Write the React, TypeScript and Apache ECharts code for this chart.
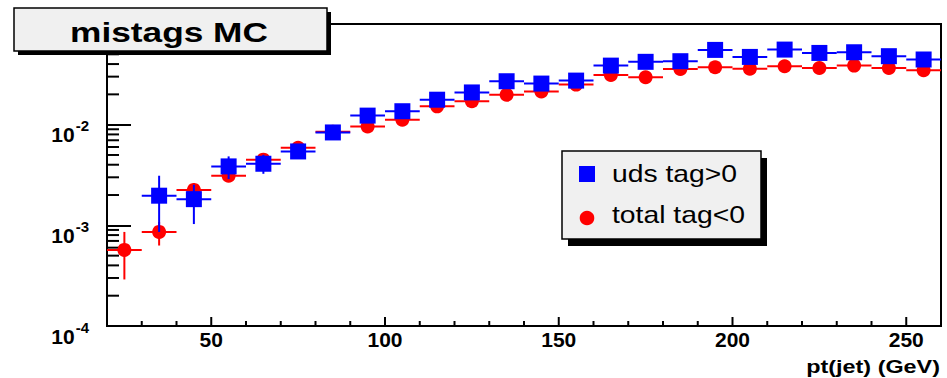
import React, { useEffect, useRef } from "react";
import * as echarts from "echarts";

// pt(jet) bin centres (GeV), bins of 10 GeV from 20 to 260
const binCenters = [25, 35, 45, 55, 65, 75, 85, 95, 105, 115, 125, 135, 145, 155, 165, 175, 185, 195, 205, 215, 225, 235, 245, 255];

// total tag<0 (red circles)
const totalVal = [5.7e-4, 8.6e-4, 2.25e-3, 3.11e-3, 4.49e-3, 5.9e-3, 8.5e-3, 9.6e-3, 1.12e-2, 1.52e-2, 1.71e-2, 1.98e-2, 2.14e-2, 2.5e-2, 3.12e-2, 2.96e-2, 3.58e-2, 3.72e-2, 3.6e-2, 3.8e-2, 3.66e-2, 3.86e-2, 3.66e-2, 3.47e-2];
const totalLo = [2.9e-4, 6.3e-4, 1.87e-3, 2.8e-3, 4.1e-3, 5.5e-3, 8.0e-3, 9.1e-3, 1.06e-2, 1.45e-2, 1.63e-2, 1.89e-2, 2.04e-2, 2.4e-2, 3.0e-2, 2.84e-2, 3.45e-2, 3.58e-2, 3.46e-2, 3.66e-2, 3.52e-2, 3.72e-2, 3.51e-2, 3.32e-2];
const totalHi = [8.6e-4, 1.08e-3, 2.63e-3, 3.42e-3, 4.88e-3, 6.3e-3, 9.0e-3, 1.01e-2, 1.18e-2, 1.59e-2, 1.79e-2, 2.07e-2, 2.24e-2, 2.6e-2, 3.24e-2, 3.08e-2, 3.71e-2, 3.86e-2, 3.74e-2, 3.94e-2, 3.8e-2, 4.0e-2, 3.81e-2, 3.62e-2];

// uds tag>0 (blue squares); no entry in the first bin
const udsVal = [null, 1.97e-3, 1.82e-3, 3.85e-3, 4.09e-3, 5.42e-3, 8.37e-3, 1.23e-2, 1.36e-2, 1.77e-2, 2.09e-2, 2.7e-2, 2.56e-2, 2.74e-2, 3.86e-2, 4.21e-2, 4.27e-2, 5.53e-2, 4.71e-2, 5.57e-2, 5.16e-2, 5.24e-2, 4.79e-2, 4.44e-2];
const udsLo = [null, 8.6e-4, 1.03e-3, 2.88e-3, 3.25e-3, 4.6e-3, 7.6e-3, 1.13e-2, 1.26e-2, 1.66e-2, 1.97e-2, 2.56e-2, 2.42e-2, 2.6e-2, 3.68e-2, 4.02e-2, 4.08e-2, 5.3e-2, 4.5e-2, 5.33e-2, 4.93e-2, 5.0e-2, 4.56e-2, 4.2e-2];
const udsHi = [null, 3.11e-3, 2.53e-3, 4.84e-3, 5.02e-3, 6.3e-3, 9.1e-3, 1.33e-2, 1.46e-2, 1.88e-2, 2.21e-2, 2.84e-2, 2.7e-2, 2.88e-2, 4.04e-2, 4.4e-2, 4.46e-2, 5.76e-2, 4.92e-2, 5.81e-2, 5.39e-2, 5.48e-2, 5.02e-2, 4.68e-2];

// axis ranges and tick positions
const X_MIN = 20;
const X_MAX = 260;
const Y_MIN = 1e-4;
const Y_MAX = 1e-1;
const xMajorTicks = [50, 100, 150, 200, 250];
const xMinorTicks = [30, 40, 60, 70, 80, 90, 110, 120, 130, 140, 160, 170, 180, 190, 210, 220, 230, 240];
const yMinorTicks = [
  2e-4, 3e-4, 4e-4, 5e-4, 6e-4, 7e-4, 8e-4, 9e-4,
  2e-3, 3e-3, 4e-3, 5e-3, 6e-3, 7e-3, 8e-3, 9e-3,
  2e-2, 3e-2, 4e-2, 5e-2, 6e-2, 7e-2, 8e-2, 9e-2,
];

const legendLabels = ["uds tag>0", "total tag<0"];
const titleText = "mistags MC";
const xAxisTitle = "pt(jet) (GeV)";

const BIN_HALF = 5;
const FONT = "Liberation Sans, Arial, Helvetica, sans-serif";
const BLUE = "#0000ff";
const RED = "#ff0000";

function pointRenderer(shape: "square" | "circle", color: string, size: number) {
  return (_params: any, api: any) => {
    const x = api.value(0);
    const y = api.value(1);
    const lo = api.value(2);
    const hi = api.value(3);
    const c = api.coord([x, y]);
    const l = api.coord([x - BIN_HALF, y]);
    const r = api.coord([x + BIN_HALF, y]);
    const top = api.coord([x, hi]);
    const bot = api.coord([x, lo]);
    const lineStyle = { stroke: color, lineWidth: 2 };
    const marker =
      shape === "square"
        ? { type: "rect", shape: { x: c[0] - size / 2, y: c[1] - size / 2, width: size, height: size }, style: { fill: color } }
        : { type: "circle", shape: { cx: c[0], cy: c[1], r: size / 2 }, style: { fill: color } };
    return {
      type: "group",
      children: [
        { type: "line", shape: { x1: l[0], y1: c[1], x2: r[0], y2: c[1] }, style: lineStyle },
        { type: "line", shape: { x1: c[0], y1: top[1], x2: c[0], y2: bot[1] }, style: lineStyle },
        marker,
      ],
    };
  };
}

function tickRenderer(_params: any, api: any) {
  const p = api.coord([api.value(0), api.value(1)]);
  const len = api.value(2);
  const vertical = api.value(3) === 0;
  return {
    type: "line",
    shape: vertical
      ? { x1: p[0], y1: p[1], x2: p[0], y2: p[1] - len }
      : { x1: p[0], y1: p[1], x2: p[0] + len, y2: p[1] },
    style: { stroke: "#000", lineWidth: 2 },
  };
}

export default function App() {
  const ref = useRef<HTMLDivElement>(null);

  useEffect(() => {
    if (!ref.current) return;
    const chart = echarts.init(ref.current, undefined, { renderer: "svg" });

    const totalData = binCenters.map((x, i) => [x, totalVal[i], totalLo[i], totalHi[i]]);
    const udsData = binCenters
      .map((x, i) => [x, udsVal[i], udsLo[i], udsHi[i]])
      .filter((d) => d[1] !== null);

    const tickData = [
      ...xMajorTicks.map((v) => [v, Y_MIN, 9, 0]),
      ...xMinorTicks.map((v) => [v, Y_MIN, 5, 0]),
      ...yMinorTicks.map((v) => [X_MIN, v, 12, 1]),
    ];

    const option: any = {
      animation: false,
      backgroundColor: "#ffffff",
      textStyle: { fontFamily: FONT },
      grid: {
        left: 107,
        right: 6,
        top: 24,
        bottom: 52,
        show: true,
        borderColor: "#000",
        borderWidth: 2,
        backgroundColor: "transparent",
      },
      xAxis: {
        type: "value",
        min: X_MIN,
        max: X_MAX,
        interval: 10,
        axisLine: { show: true, onZero: false, lineStyle: { color: "#000", width: 2 } },
        axisTick: { show: false },
        splitLine: { show: false },
        axisLabel: {
          margin: 3,
          color: "#000",
          fontFamily: FONT,
          fontWeight: "bold",
          fontSize: 21,
          formatter: (v: number) => (v % 50 === 0 && v > X_MIN && v < X_MAX ? String(v) : ""),
        },
      },
      yAxis: {
        type: "log",
        logBase: 10,
        min: Y_MIN,
        max: Y_MAX,
        axisLine: { show: true, lineStyle: { color: "#000", width: 2 } },
        axisTick: { show: true, inside: true, length: 24, lineStyle: { color: "#000", width: 2 } },
        splitLine: { show: false },
        axisLabel: {
          margin: 18,
          color: "#000",
          fontFamily: FONT,
          formatter: (v: number) => {
            const e = Math.round(Math.log10(v));
            if (e >= -1) return "";
            return `{b|10}{s|${e}}`;
          },
          rich: {
            b: { fontFamily: FONT, fontWeight: "bold", fontSize: 21, lineHeight: 21, padding: [10, 0, 0, 0], verticalAlign: "top", color: "#000" },
            s: { fontFamily: FONT, fontWeight: "bold", fontSize: 15, lineHeight: 15, padding: [4, 0, 0, 1], verticalAlign: "top", color: "#000" },
          },
        },
      },
      series: [
        {
          name: "ticks",
          type: "custom",
          silent: true,
          renderItem: tickRenderer,
          data: tickData,
          z: 1,
        },
        {
          name: legendLabels[1],
          type: "custom",
          renderItem: pointRenderer("circle", RED, 14),
          data: totalData,
          z: 2,
        },
        {
          name: legendLabels[0],
          type: "custom",
          renderItem: pointRenderer("square", BLUE, 16),
          data: udsData,
          z: 3,
        },
      ],
      graphic: [
        // title box with drop shadow
        { type: "rect", z: 100, shape: { x: 18, y: 12, width: 313, height: 43 }, style: { fill: "#000" } },
        { type: "rect", z: 101, shape: { x: 14, y: 8, width: 313, height: 43 }, style: { fill: "#f0f0f0", stroke: "#000", lineWidth: 1.5 } },
        {
          type: "text",
          z: 102,
          x: 169,
          y: 32,
          scaleX: 1.26,
          style: { text: titleText, fill: "#000", font: `bold 28px ${FONT}`, align: "center", verticalAlign: "middle" },
        },
        // legend box with drop shadow
        { type: "rect", z: 100, shape: { x: 568, y: 158, width: 199, height: 88 }, style: { fill: "#000" } },
        { type: "rect", z: 101, shape: { x: 562, y: 151, width: 199, height: 88 }, style: { fill: "#f0f0f0", stroke: "#000", lineWidth: 1.5 } },
        { type: "rect", z: 102, shape: { x: 579, y: 166, width: 16, height: 16 }, style: { fill: BLUE } },
        { type: "circle", z: 102, shape: { cx: 587, cy: 218, r: 7.3 }, style: { fill: RED } },
        {
          type: "text",
          z: 102,
          x: 612,
          y: 173.5,
          scaleX: 1.18,
          style: { text: legendLabels[0], fill: "#000", font: `24px ${FONT}`, align: "left", verticalAlign: "middle" },
        },
        {
          type: "text",
          z: 102,
          x: 612,
          y: 214.5,
          scaleX: 1.18,
          style: { text: legendLabels[1], fill: "#000", font: `24px ${FONT}`, align: "left", verticalAlign: "middle" },
        },
        // x axis title
        {
          type: "text",
          z: 102,
          x: 940,
          y: 367,
          scaleX: 1.3,
          style: { text: xAxisTitle, fill: "#000", font: `bold 18px ${FONT}`, align: "right", verticalAlign: "middle" },
        },
      ],
    };

    chart.setOption(option);
    return () => chart.dispose();
  }, []);

  return (
    <div
      ref={ref}
      style={{ position: "fixed", left: 0, top: 0, width: 947, height: 378, background: "#fff" }}
    />
  );
}
